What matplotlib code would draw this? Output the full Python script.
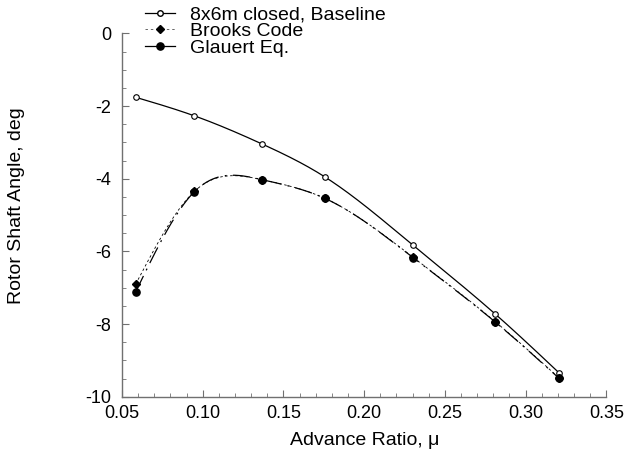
import numpy as np
import matplotlib.pyplot as plt
from matplotlib.lines import Line2D
from matplotlib.ticker import MultipleLocator

plt.rcParams['font.family'] = ['Liberation Sans', 'DejaVu Sans']

mu = [0.0585, 0.0948, 0.1370, 0.1756, 0.2302, 0.2813, 0.3206]
baseline = [-1.76, -2.27, -3.05, -3.95, -5.83, -7.73, -9.34]
brooks = [-6.90, -4.35, -4.03, -4.54, -6.16, -7.94, -9.48]
glauert = [-7.11, -4.36, -4.03, -4.54, -6.17, -7.95, -9.49]


def smooth(x, y, n=300):
    # natural cubic spline through the points, just for drawing the curve
    x = np.asarray(x, float)
    y = np.asarray(y, float)
    k = len(x)
    h = np.diff(x)
    A = np.zeros((k, k))
    r = np.zeros(k)
    A[0, 0] = A[-1, -1] = 1
    for i in range(1, k - 1):
        A[i, i - 1] = h[i - 1]
        A[i, i] = 2 * (h[i - 1] + h[i])
        A[i, i + 1] = h[i]
        r[i] = 6 * ((y[i + 1] - y[i]) / h[i] - (y[i] - y[i - 1]) / h[i - 1])
    M = np.linalg.solve(A, r)
    xs = np.linspace(x[0], x[-1], n)
    idx = np.clip(np.searchsorted(x, xs) - 1, 0, k - 2)
    x0, x1 = x[idx], x[idx + 1]
    hh = x1 - x0
    a = (x1 - xs) / hh
    b = (xs - x0) / hh
    ys = (a * y[idx] + b * y[idx + 1]
          + ((a**3 - a) * M[idx] + (b**3 - b) * M[idx + 1]) * hh**2 / 6)
    return xs, ys


fig = plt.figure(figsize=(6.29, 4.57), dpi=100)
ax = fig.add_axes([0.194, 0.132, 0.77, 0.795])

xs, ys = smooth(mu, baseline)
ax.plot(xs, ys, color='black', lw=0.9)
xs, ys = smooth(mu, brooks)
ax.plot(xs, ys, color='black', lw=0.6, dashes=(3, 3))
xs, ys = smooth(mu, glauert)
ax.plot(xs, ys, color='black', lw=0.9, dashes=(14, 5, 1.5, 5))

ax.plot(mu, baseline, 'o', ms=4, mfc='white', mec='black', mew=0.8)
ax.plot(mu, brooks, 'D', ms=4, color='black')
ax.plot(mu, glauert, 'o', ms=5.2, color='black')

ax.set_xlim(0.05, 0.35)
ax.set_ylim(-10, 0)
ax.xaxis.set_major_locator(MultipleLocator(0.05))
ax.xaxis.set_minor_locator(MultipleLocator(0.01))
ax.yaxis.set_major_locator(MultipleLocator(2))
ax.yaxis.set_minor_locator(MultipleLocator(0.5))
ax.xaxis.set_major_formatter(plt.FormatStrFormatter('%.2f'))
ax.yaxis.set_major_formatter(plt.FormatStrFormatter('%d'))

for s in ['top', 'right']:
    ax.spines[s].set_visible(False)
for s in ['left', 'bottom']:
    ax.spines[s].set_color('#707070')
    ax.spines[s].set_linewidth(1.0)
ax.tick_params(which='both', direction='in', color='#707070', labelsize=13)
ax.tick_params(which='major', length=5)
ax.tick_params(which='minor', length=3)
ax.tick_params(axis='x', pad=6)
ax.tick_params(axis='y', pad=8)

ax.set_xlabel('Advance Ratio, \u03bc', fontsize=14)
ax.set_ylabel('Rotor Shaft Angle, deg', fontsize=14)
ax.xaxis.set_label_coords(0.5, -0.097)
ax.yaxis.set_label_coords(-0.2, 0.525)

handles = [
    Line2D([], [], color='black', lw=0.9, marker='o', ms=4, mfc='white', mec='black'),
    Line2D([], [], color='#666666', lw=0.7, dashes=(2.5, 3), marker='D', ms=4,
           mfc='black', mec='black'),
    Line2D([], [], color='black', lw=0.9, marker='o', ms=5.2),
]
labels = ['8x6m closed, Baseline', 'Brooks Code', 'Glauert Eq.']
fig.legend(handles, labels, loc='upper left', bbox_to_anchor=(145 / 629, 1 - 6 / 457),
           frameon=False, fontsize=14, handlelength=1.55, handletextpad=0.75,
           labelspacing=-0.05, borderpad=0, borderaxespad=0)

fig.savefig('out.png', dpi=100)
